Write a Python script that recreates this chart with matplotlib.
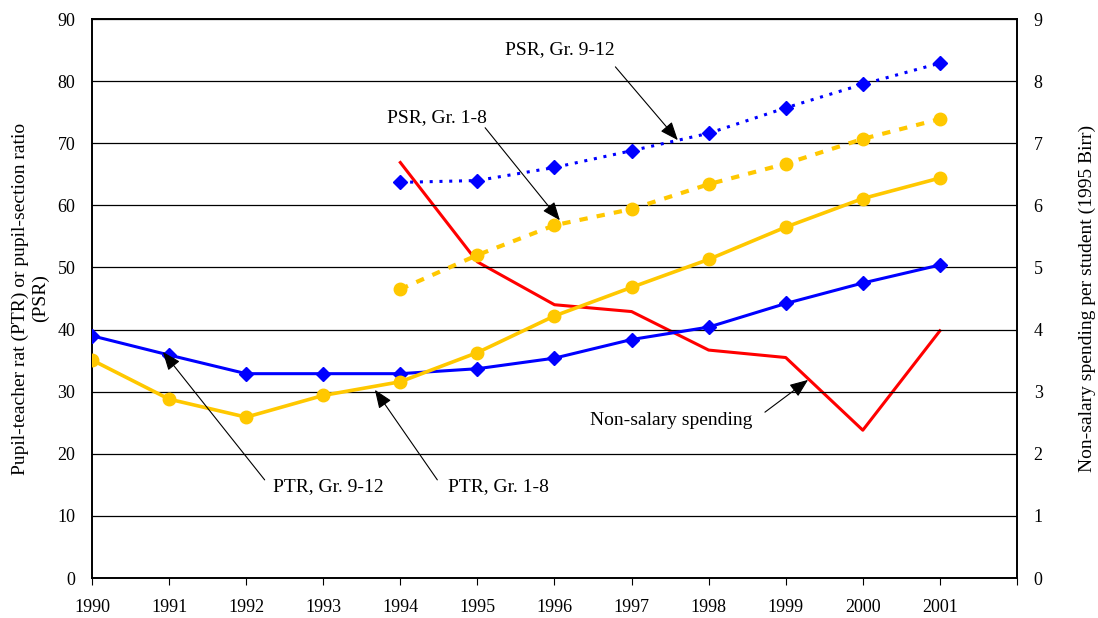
import matplotlib.pyplot as plt

plt.rcParams['font.family'] = ['Liberation Serif', 'DejaVu Serif']

years = [1990, 1991, 1992, 1993, 1994, 1995, 1996, 1997, 1998, 1999, 2000, 2001]
ptr_9_12 = [39.0, 35.9, 32.9, 32.9, 32.9, 33.7, 35.4, 38.4, 40.4, 44.2, 47.5, 50.4]
ptr_1_8 = [35.1, 28.8, 25.9, 29.4, 31.6, 36.3, 42.2, 46.8, 51.3, 56.5, 61.1, 64.4]

psr_years = [1994, 1995, 1996, 1997, 1998, 1999, 2000, 2001]
psr_9_12 = [63.7, 64.0, 66.1, 68.8, 71.6, 75.7, 79.5, 82.9]
psr_1_8 = [46.5, 52.0, 56.8, 59.4, 63.4, 66.7, 70.7, 73.9]

spend_years = [1994, 1995, 1996, 1997, 1998, 1999, 2000, 2001]
nonsalary = [6.69, 5.09, 4.40, 4.29, 3.67, 3.55, 2.38, 3.98]

# label text, text position, arrow tail, arrow head (data coords of left axis)
labels = ['PSR, Gr. 9-12', 'PSR, Gr. 1-8', 'PTR, Gr. 9-12', 'PTR, Gr. 1-8', 'Non-salary spending']
label_pos = [(1996.07, 85.0), (1994.48, 74.1), (1993.06, 14.7), (1995.27, 14.7), (1997.51, 25.4)]
arrow_tail = [(1996.79, 82.3), (1995.10, 72.5), (1992.24, 15.8), (1994.48, 15.8), (1998.73, 26.7)]
arrow_head = [(1997.60, 70.5), (1996.07, 57.6), (1990.92, 36.4), (1993.67, 30.3), (1999.29, 31.9)]

blue = '#0000FF'
gold = '#FFC800'
red = '#FF0000'

fig = plt.figure(figsize=(10.98, 6.18), dpi=100)
ax = fig.add_axes([0.0838, 0.0647, 0.8424, 0.9045])
ax2 = ax.twinx()

# right axis first so left-axis lines sit on top
ax2.plot(spend_years, nonsalary, color=red, lw=2.2, zorder=2)
ax2.set_ylim(0, 9)
ax2.set_yticks(range(0, 10))

ax.set_zorder(ax2.get_zorder() + 1)
ax.patch.set_visible(False)

ax.plot(years, ptr_9_12, color=blue, lw=2.2, marker='D', ms=7, zorder=3)
ax.plot(years, ptr_1_8, color=gold, lw=2.6, marker='o', ms=9, zorder=3)
ax.plot(psr_years, psr_9_12, color=blue, lw=2.2, ls=(0, (1.0, 2.2)), marker='D', ms=7, zorder=3)
ax.plot(psr_years, psr_1_8, color=gold, lw=3, ls=(0, (2.0, 2.2)), marker='o', ms=9, zorder=3)

ax.set_xlim(1990, 2002)
ax.set_ylim(0, 90)
ax.set_xticks(range(1990, 2003))
ax.set_xticklabels([str(y) for y in range(1990, 2002)] + [''])
ax.set_yticks(range(0, 100, 10))
ax.yaxis.grid(True, color='black', lw=0.9)
ax.set_axisbelow(True)

for a in (ax, ax2):
    for s in a.spines.values():
        s.set_color('black')
        s.set_linewidth(1.2)
ax.tick_params(axis='y', length=0, labelsize=13, pad=12)
ax2.tick_params(axis='y', length=0, labelsize=13, pad=12)
ax.tick_params(axis='x', direction='out', length=5, labelsize=13, pad=10)

ax.set_ylabel('Pupil-teacher rat (PTR) or pupil-section ratio\n(PSR)', fontsize=14, labelpad=6)
ax2.set_ylabel('Non-salary spending per student (1995 Birr)', fontsize=14, labelpad=26)

arrow = dict(arrowstyle='-|>,head_length=0.75,head_width=0.3', color='black',
             lw=0.8, mutation_scale=15, shrinkA=0, shrinkB=0)
for txt, pos, tail, head in zip(labels, label_pos, arrow_tail, arrow_head):
    ax.text(pos[0], pos[1], txt, ha='center', va='center', fontsize=14, zorder=5)
    ax.annotate('', xy=head, xytext=tail, arrowprops=arrow, zorder=5)

fig.savefig('out.png', dpi=100)
